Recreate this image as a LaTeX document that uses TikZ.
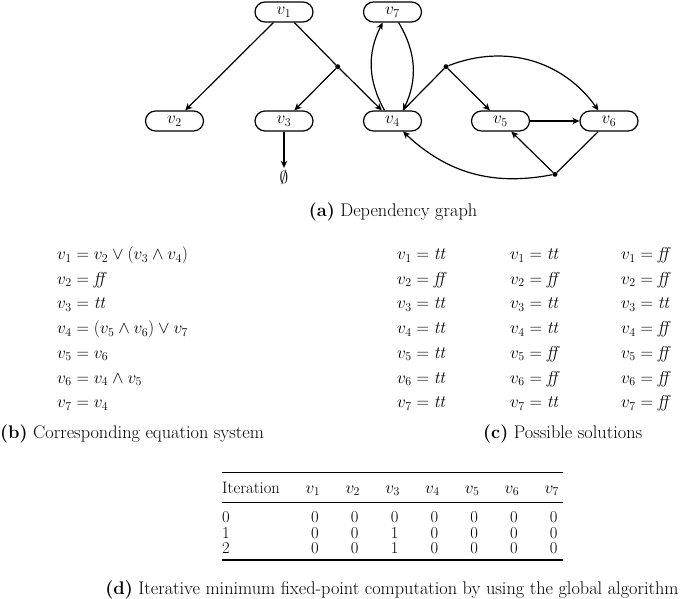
\documentclass[tikz,border=0pt]{standalone}
\usetikzlibrary{arrows.meta,calc}
\begin{document}
\begin{tikzpicture}[x=1pt,y=1pt,font=\fontsize{18.3}{22}\selectfont]
\tikzset{
  pill/.style={draw, line width=1.2pt, rounded corners=10pt, minimum width=58pt, minimum height=20pt, inner sep=0pt},
  arr/.style={line width=1.2pt, -{Stealth[length=7pt,width=6.5pt,inset=2pt]}},
  ln/.style={line width=1.2pt},
  jdot/.style={circle, fill, inner sep=0pt, minimum size=5pt},
  lbl/.style={inner sep=0pt, anchor=base west},
  cval/.style={inner sep=0pt, anchor=base},
  tabtxt/.style={font=\fontsize{16.6}{20}\selectfont},
  heavyrule/.style={line width=1.4pt},
  lightrule/.style={line width=0.8pt},
}
\useasboundingbox (0,0) rectangle (685,-599);

% ---------- (a) dependency graph ----------
\node[pill] (v1) at (284,-12) {$v_1$};
\node[pill] (v7) at (392.5,-12) {$v_7$};
\node[pill] (v2) at (174.5,-121) {$v_2$};
\node[pill] (v3) at (284,-121) {$v_3$};
\node[pill] (v4) at (392.5,-121) {$v_4$};
\node[pill] (v5) at (500.5,-121) {$v_5$};
\node[pill] (v6) at (609,-121) {$v_6$};
\node[jdot] (d1) at (337.7,-66.7) {};
\node[jdot] (d2) at (446,-66.7) {};
\node[jdot] (d3) at (555,-174.3) {};
\node[inner sep=2pt] (empty) at (284,-177) {$\emptyset$};

\draw[arr] (v1) -- (v2);
\draw[ln] (v1) -- (d1);
\draw[arr] (d1) -- (v3);
\draw[arr] (d1) -- (v4);
\draw[arr] (v3) -- (empty);
\draw[arr] (v4.127) to[bend left=28] (v7.227);
\draw[arr] (v7.300) to[bend left=28] (v4.45);
\draw[ln] (v4) -- (d2);
\draw[arr] (d2) -- (v5);
\draw[arr] (d2) to[bend left=38] (v6.135);
\draw[arr] (v5) -- (v6);
\draw[ln] (v6) -- (d3);
\draw[arr] (d3) -- (v5);
\draw[arr] (d3) to[bend left=27] (v4);

\node (capa) at (393,-212) {\textbf{(a)} Dependency graph};

% ---------- (b) equation system ----------
\node[lbl] (e1) at (57,-259.5) {$v_1 = v_2 \vee (v_3 \wedge v_4)$};
\node[lbl] (e2) at (57,-284.2) {$v_2 = \mathit{ff}$};
\node[lbl] (e3) at (57,-308.9) {$v_3 = \mathit{tt}$};
\node[lbl] (e4) at (57,-333.6) {$v_4 = (v_5 \wedge v_6) \vee v_7$};
\node[lbl] (e5) at (57,-358.3) {$v_5 = v_6$};
\node[lbl] (e6) at (57,-383.0) {$v_6 = v_4 \wedge v_5$};
\node[lbl] (e7) at (57,-407.7) {$v_7 = v_4$};
\node[anchor=west, inner sep=0pt] (capb) at (0,-434) {\textbf{(b)} Corresponding equation system};

% ---------- (c) possible solutions ----------
\foreach \col/\x/\vals in {1/397/{tt,ff,tt,tt,tt,tt,tt}, 2/510/{tt,ff,tt,tt,ff,ff,tt}, 3/621/{ff,ff,tt,ff,ff,ff,ff}}{
  \foreach \v [count=\i] in \vals {
    \pgfmathsetmacro{\yy}{-259.5-24.7*(\i-1)}
    \node[lbl] (s\col-\i) at (\x,\yy) {$v_{\i} = \mathit{\v}$};
  }
}
\node[anchor=west, inner sep=0pt] (capc) at (483,-434) {\textbf{(c)} Possible solutions};

% ---------- (d) table ----------
\coordinate (tl) at (222,-472.5);
\coordinate (tr) at (563,-472.5);
\coordinate (ml) at (222,-502);
\coordinate (mr) at (563,-502);
\coordinate (bl) at (222,-560);
\coordinate (br) at (563,-560);
\draw[heavyrule] (tl) -- (tr);
\draw[lightrule] (ml) -- (mr);
\draw[heavyrule] (bl) -- (br);
\node[lbl, tabtxt] (hit) at (222,-493) {Iteration};
\foreach \k in {1,...,7}{
  \pgfmathsetmacro{\xx}{313+39.8*(\k-1)}
  \node[cval, tabtxt] (h\k) at (\xx,-493) {$v_{\k}$};
}
\foreach \r/\vals in {0/{0,0,0,0,0,0,0}, 1/{0,0,1,0,0,0,0}, 2/{0,0,1,0,0,0,0}}{
  \pgfmathsetmacro{\yy}{-522.5-15.6*\r}
  \node[lbl, tabtxt] (r\r) at (222,\yy) {\r};
  \foreach \v [count=\k] in \vals {
    \pgfmathsetmacro{\xx}{315+39.8*(\k-1)}
    \node[cval, tabtxt] (c\r-\k) at (\xx,\yy) {\v};
  }
}
\node (capd) at (392,-590) {\textbf{(d)} Iterative minimum fixed-point computation by using the global algorithm};
\end{tikzpicture}
\end{document}
